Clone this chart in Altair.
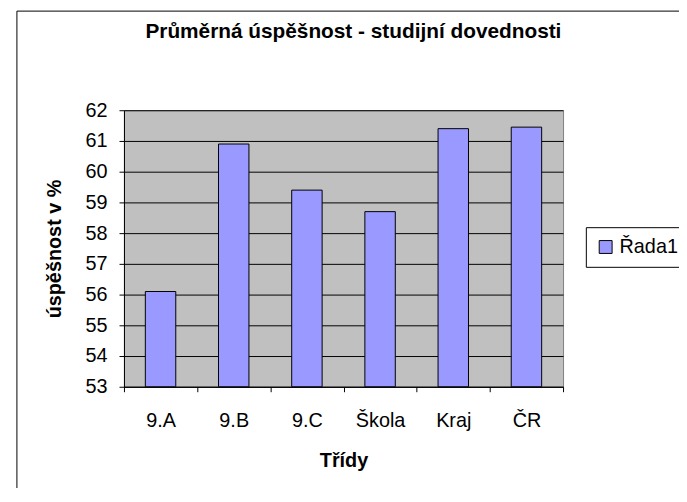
import altair as alt
import pandas as pd

categories = ["9.A", "9.B", "9.C", "Škola", "Kraj", "ČR"]
values = [56.1, 60.9, 59.4, 58.7, 61.4, 61.45]
series = ["Řada1"] * len(categories)
y_ticks = list(range(53, 63))
y_base = 53

title_text = "Průměrná úspěšnost - studijní dovednosti"
x_title = "Třídy"
y_title = "úspěšnost v %"

df = pd.DataFrame({"trida": categories, "hodnota": values, "rada": series})

FONT = "Liberation Sans"

bars = alt.Chart(df).mark_bar(
    width=alt.RelativeBandSize(0.416), stroke="black", strokeWidth=1
).encode(
    x=alt.X(
        "trida:N", sort=categories,
        scale=alt.Scale(paddingInner=0, paddingOuter=0),
        axis=alt.Axis(
            title=x_title, labelAngle=0, tickBand="extent", grid=False,
            labelFont=FONT, labelFontSize=20, labelColor="black",
            labelBaseline="alphabetic", labelPadding=35,
            tickSize=5, tickColor="black", domainColor="black",
            titleFont=FONT, titleFontSize=20, titleFontWeight="bold", titleColor="black",
            titleBaseline="alphabetic", titleY=80, titleX=221.5,
        ),
    ),
    y=alt.Y(
        "hodnota:Q",
        scale=alt.Scale(domain=[53, 62], nice=False, zero=False),
        axis=alt.Axis(
            title=y_title, values=y_ticks, grid=True, gridColor="black", gridOpacity=1,
            labelFont=FONT, labelFontSize=20, labelColor="black", labelPadding=12,
            tickSize=5, tickColor="black", domainColor="black",
            titleFont=FONT, titleFontSize=20, titleFontWeight="bold", titleColor="black",
            titleBaseline="alphabetic", titleAngle=270, titleX=-64, titleY=139.5,
        ),
    ),
    y2=alt.datum(y_base),
    color=alt.Color(
        "rada:N",
        scale=alt.Scale(domain=["Řada1"], range=["#9999FF"]),
        legend=alt.Legend(
            title=None, orient="none", legendX=466, legendY=118,
            fillColor="white", strokeColor="black", padding=10, cornerRadius=0,
            symbolType="square", symbolSize=169, symbolStrokeColor="black",
            symbolStrokeWidth=1, symbolFillColor="#9999FF",
            labelFont=FONT, labelFontSize=20, labelColor="black", labelOffset=4,
        ),
    ),
)

frame = alt.Chart(pd.DataFrame({"k": [0]})).mark_rect(
    fillOpacity=0, stroke="black", strokeWidth=1
).encode(
    x=alt.value(-108), x2=alt.value(620), y=alt.value(-100), y2=alt.value(430)
)

chart = alt.layer(frame, bars).properties(
    width=443,
    height=279,
    title=alt.TitleParams(
        text=title_text, font=FONT, fontSize=21, fontWeight="bold",
        color="black", anchor="middle", dx=10, offset=-49, baseline="alphabetic",
    ),
    autosize=alt.AutoSizeParams(type="none"),
    padding={"left": 117, "top": 101, "right": 117, "bottom": 100},
    background="white",
).configure_view(fill="#C0C0C0", stroke="#808080")

chart.save("out.html", embed_options={"renderer": "svg", "actions": False})
